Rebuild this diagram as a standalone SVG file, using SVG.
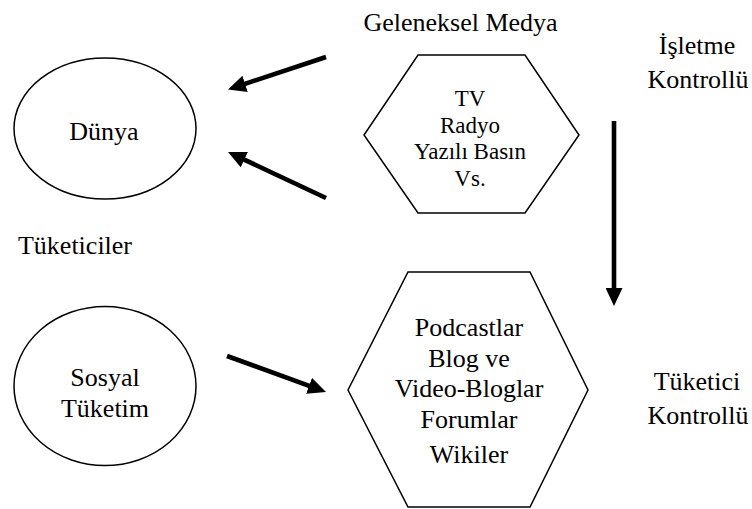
<svg xmlns="http://www.w3.org/2000/svg" width="752" height="509" viewBox="0 0 752 509">
<defs>
<style>
text{fill:#000;text-anchor:middle}
.big{font-size:26px}
.mid{font-size:23px}
.shape{fill:#fff;stroke:#000;stroke-width:1.5}
.arrow{stroke:#000;stroke-width:4.6;fill:none;marker-end:url(#head)}
</style>
<marker id="head" viewBox="0 0 18 17" refX="6" refY="8.5" markerWidth="18" markerHeight="17" markerUnits="userSpaceOnUse" orient="auto">
<path d="M0,0 L18,8.5 L0,17 z" fill="#000"/>
</marker>
</defs>
<rect width="752" height="509" fill="#fff"/>
<g font-family="'Liberation Serif', 'DejaVu Serif', serif">
<g id="label-geleneksel"><text class="big" x="460.5" y="31">Geleneksel Medya</text></g>
<g id="label-isletme"><text class="big" x="697" y="54">İşletme</text><text class="big" x="698" y="88">Kontrollü</text></g>
<g id="label-tuketiciler"><text class="big" x="75" y="254">Tüketiciler</text></g>
<g id="label-tuketici"><text class="big" x="697" y="390">Tüketici</text><text class="big" x="698" y="424">Kontrollü</text></g>
<g id="dunya"><ellipse class="shape" cx="105" cy="128.5" rx="91" ry="70.5"/><text class="big" x="104" y="140">Dünya</text></g>
<g id="sosyal"><ellipse class="shape" cx="105" cy="386" rx="91" ry="79.5"/><text class="big" x="105" y="386">Sosyal</text><text class="big" x="105" y="417">Tüketim</text></g>
<g id="geleneksel-medya"><polygon class="shape" points="418,55 525,55 579,135 525,213 418,213 364,135"/>
<text class="mid" x="470" y="106">TV</text><text class="mid" x="470" y="133">Radyo</text><text class="mid" x="470" y="159">Yazılı Basın</text><text class="mid" x="470" y="186">Vs.</text></g>
<g id="sosyal-medya"><polygon class="shape" points="408,272 530,272 588,390 530,507 408,507 348,390"/>
<text class="big" x="469" y="336">Podcastlar</text><text class="big" x="469" y="367">Blog ve</text><text class="big" x="469" y="397">Video-Bloglar</text><text class="big" x="469" y="428">Forumlar</text><text class="big" x="469" y="463">Wikiler</text></g>
</g>
<g id="connectors">
<line class="arrow" x1="326" y1="57" x2="239.4" y2="85.7"/>
<line class="arrow" x1="326" y1="198" x2="238.9" y2="157.1"/>
<line class="arrow" x1="227" y1="356" x2="314.7" y2="387.9"/>
<line class="arrow" x1="614" y1="121" x2="614" y2="294"/>
</g>
</svg>
